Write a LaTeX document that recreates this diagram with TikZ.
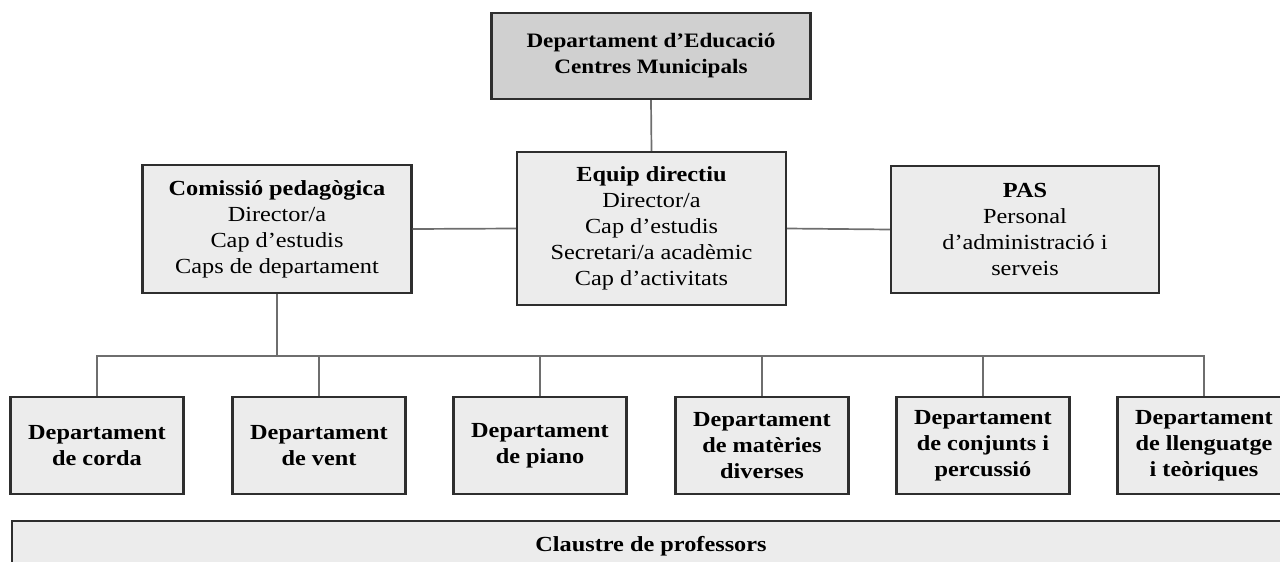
\documentclass[tikz,border=0pt]{standalone}
\usepackage{fontspec}
\setmainfont{Liberation Serif}[FakeStretch=1.13]
\definecolor{boxline}{HTML}{2E2E2E}
\definecolor{boxfill}{HTML}{ECECEC}
\definecolor{topfill}{HTML}{D0D0D0}
\definecolor{connline}{HTML}{6E6E6E}
\tikzset{
  box/.style={draw=boxline, line width=2.2pt, fill=boxfill, inner sep=0pt, align=center,
    font=\fontsize{21.5}{26}\selectfont},
  topbox/.style={box, fill=topfill, font=\fontsize{20.5}{26}\selectfont\bfseries},
  deptbox/.style={box, minimum width=173pt, minimum height=97pt,
    font=\fontsize{21.5}{26}\selectfont\bfseries},
  conn/.style={draw=connline, line width=1.7pt}
}
\begin{document}
\begin{tikzpicture}[x=1pt, y=-1pt]
  \useasboundingbox (0,0) rectangle (1280,562);
  \clip (0,0) rectangle (1280,562);
  \node[topbox, minimum width=319pt, minimum height=86pt] (top) at (651,56)
    {Departament d’Educació\\Centres Municipals};
  \node[box, minimum width=269pt, minimum height=153pt] (equip) at (651.5,228.5)
    {\textbf{Equip directiu}\\Director/a\\Cap d’estudis\\Secretari/a acadèmic\\Cap d’activitats};
  \node[box, minimum width=269pt, minimum height=128pt] (comissio) at (277,229)
    {\textbf{Comissió pedagògica}\\Director/a\\Cap d’estudis\\Caps de departament};
  \node[box, minimum width=268pt, minimum height=127pt] (pas) at (1025,229.5)
    {\textbf{PAS}\\Personal\\d’administració i\\serveis};
  \node[deptbox] (d1) at (97,445.5) {Departament\\de corda};
  \node[deptbox] (d2) at (319,445.5) {Departament\\de vent};
  \node[deptbox] (d3) at (540,445.5) {Departament\\de piano};
  \node[deptbox] (d4) at (762,445.5) {Departament\\de matèries\\diverses};
  \node[deptbox] (d5) at (983,445.5) {Departament\\de conjunts i\\percussió};
  \node[deptbox] (d6) at (1204,445.5) {Departament\\de llenguatge\\i teòriques};
  \node[box, minimum width=1278pt, minimum height=51pt, font=\fontsize{21.5}{26}\selectfont\bfseries]
    (claustre) at (651,546.5) {Claustre de professors};
  \coordinate (bus) at (0,356);
  \draw[conn] (top.south) -- (equip.north);
  \draw[conn] (comissio.east) -- (equip.west);
  \draw[conn] (equip.east) -- (pas.west);
  \draw[conn] (comissio.south) -- (comissio.south |- bus);
  \draw[conn] (d1.north) -- (d1.north |- bus) -- (d6.north |- bus) -- (d6.north);
  \draw[conn] (d2.north) -- (d2.north |- bus);
  \draw[conn] (d3.north) -- (d3.north |- bus);
  \draw[conn] (d4.north) -- (d4.north |- bus);
  \draw[conn] (d5.north) -- (d5.north |- bus);
\end{tikzpicture}
\end{document}
